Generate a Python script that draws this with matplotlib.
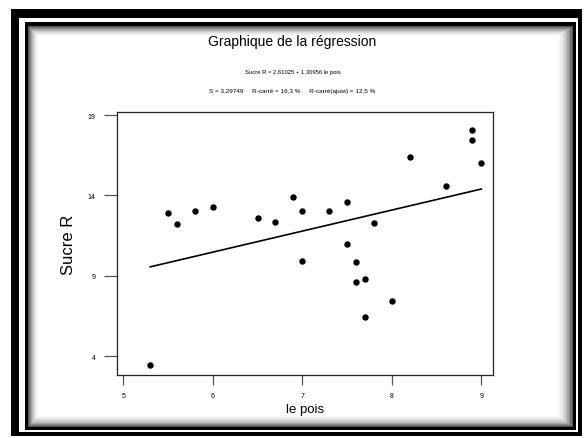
import numpy as np
import matplotlib.pyplot as plt
from matplotlib.patches import Rectangle

# data
le_pois = [5.3, 5.5, 5.6, 5.8, 6.0, 6.5, 6.7, 6.9, 7.0, 7.0, 7.3, 7.5,
           7.5, 7.6, 7.6, 7.7, 7.7, 7.8, 8.0, 8.2, 8.6, 8.9, 8.9, 9.0]
sucre_r = [3.45, 12.9, 12.2, 13.0, 13.3, 12.6, 12.35, 13.9, 13.0, 9.9, 13.0, 13.6,
           11.0, 9.85, 8.6, 8.8, 6.45, 12.25, 7.4, 16.4, 14.6, 18.1, 17.45, 16.0]
intercept = 2.61025
slope = 1.30956
x_ticks = [5, 6, 7, 8, 9]
y_ticks = [4, 9, 14, 19]

W, H = 585, 439
fig = plt.figure(figsize=(W / 100, H / 100), dpi=100)
fig.patch.set_facecolor("white")

font = ["Liberation Sans", "DejaVu Sans"]


def box(x0, y0, x1, y1, color):
    # rectangle given in pixel coords from top-left
    fig.add_artist(Rectangle((x0 / W, 1 - y1 / H), (x1 - x0) / W, (y1 - y0) / H,
                             transform=fig.transFigure, facecolor=color,
                             edgecolor="none", zorder=-10))


# frame with shadow
box(11, 10, 582, 437, "black")
box(19, 19, 578, 433, "white")
box(25, 23, 576, 431, "black")
n = 12
for i in range(n):
    t = (i + 1) / n
    g = 1 - 0.8 * (1 - t) ** 2
    box(28 + i, 27 + i, 573 - i * 1.5, 428 - i * 1.1, str(round(g, 3)))

ax = fig.add_axes([117 / W, 1 - 376 / H, (493 - 117) / W, (376 - 113) / H])
ax.set_facecolor("white")

ax.plot(le_pois, sucre_r, "o", color="black", markersize=3.6)
xs = np.array([min(le_pois), max(le_pois)])
ax.plot(xs, intercept + slope * xs, color="black", lw=1.2)

ax.set_xlim(4.93, 9.13)
ax.set_ylim(2.82, 19.19)
ax.set_xticks(x_ticks)
ax.set_yticks(y_ticks)
ax.tick_params(axis="x", length=7, width=0.9, color="#555555", pad=5, labelsize=5)
ax.tick_params(axis="y", length=9.5, width=0.9, color="#555555", pad=6, labelsize=5)
for lab in ax.get_xticklabels() + ax.get_yticklabels():
    lab.set_family(font)
for s in ax.spines.values():
    s.set_linewidth(0.9)
    s.set_color("#222222")

ax.set_xlabel("le pois", family=font, fontsize=9.5, labelpad=3)
ax.set_ylabel("Sucre R", family=font, fontsize=12, labelpad=8)

fig.text(0.5, 1 - 42 / H, "Graphique de la régression", ha="center", va="center",
         family=font, fontsize=10)
fig.text(0.5, 1 - 73 / H, "Sucre R = 2,61025 + 1,30956 le pois", ha="center",
         va="center", family=font, fontsize=4.2)
fig.text(0.5, 1 - 92 / H, "S = 3,29749     R-carré = 16,3 %     R-carré(ajust) = 12,5 %",
         ha="center", va="center", family=font, fontsize=4.6)

fig.savefig("out.png", dpi=100)
